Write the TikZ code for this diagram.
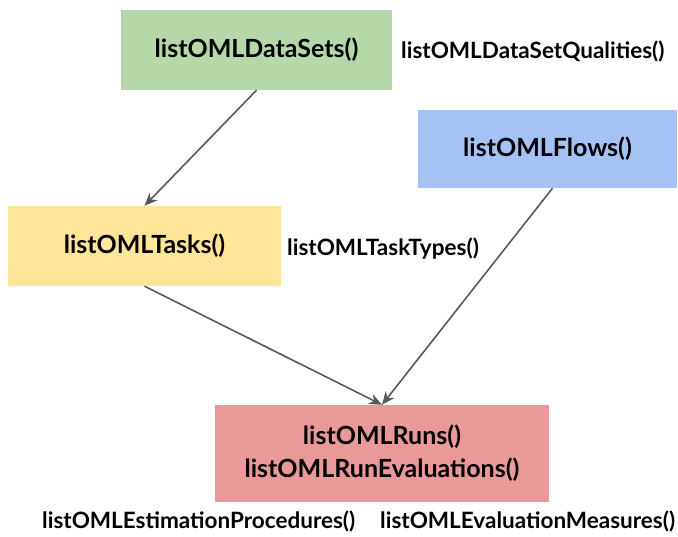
\documentclass[tikz,border=0pt]{standalone}
\usepackage{fontspec}
\setmainfont{Lato}
\usetikzlibrary{arrows.meta}
\definecolor{datacolor}{HTML}{B6D7A8}
\definecolor{flowcolor}{HTML}{A4C2F4}
\definecolor{taskcolor}{HTML}{FFE599}
\definecolor{runcolor}{HTML}{EA9999}
\definecolor{linkcolor}{HTML}{595959}
\tikzset{
  funcbox/.style={rectangle, inner sep=0pt, align=center, font=\bfseries\fontsize{25}{33}\selectfont},
  sidelabel/.style={inner sep=0pt, font=\bfseries\fontsize{22.5}{26}\selectfont},
  link/.style={-{Stealth[length=13pt, width=11pt]}, line width=1.6pt, linkcolor}
}
\begin{document}
\begin{tikzpicture}[x=1pt, y=-1pt]
  \useasboundingbox (0,0) rectangle (678,536);

  % Function boxes
  \node[funcbox, fill=datacolor, minimum width=271pt, minimum height=80pt] (datasets) at (256.5,50) {listOMLDataSets()};
  \node[funcbox, fill=flowcolor, minimum width=259pt, minimum height=78pt] (flows) at (547.5,149) {listOMLFlows()};
  \node[funcbox, fill=taskcolor, minimum width=273pt, minimum height=80pt] (tasks) at (144.5,246) {listOMLTasks()};
  \node[funcbox, fill=runcolor, minimum width=334pt, minimum height=97pt] (runs) at (382,453.5) {listOMLRuns()\\listOMLRunEvaluations()};

  % Side labels
  \node[sidelabel, anchor=west] (qualities) at (401,51) {listOMLDataSetQualities()};
  \node[sidelabel, anchor=west] (tasktypes) at (287,249) {listOMLTaskTypes()};
  \node[sidelabel, anchor=west] (estproc) at (42,521) {listOMLEstimationProcedures()};
  \node[sidelabel, anchor=west] (evalmeas) at (380,521) {listOMLEvaluationMeasures()};

  % Links
  \draw[link] (datasets.south) -- (tasks.north);
  \draw[link] ([xshift=5pt]flows.south) -- (runs.north);
  \draw[link] (tasks.south) -- (runs.north);
\end{tikzpicture}
\end{document}
